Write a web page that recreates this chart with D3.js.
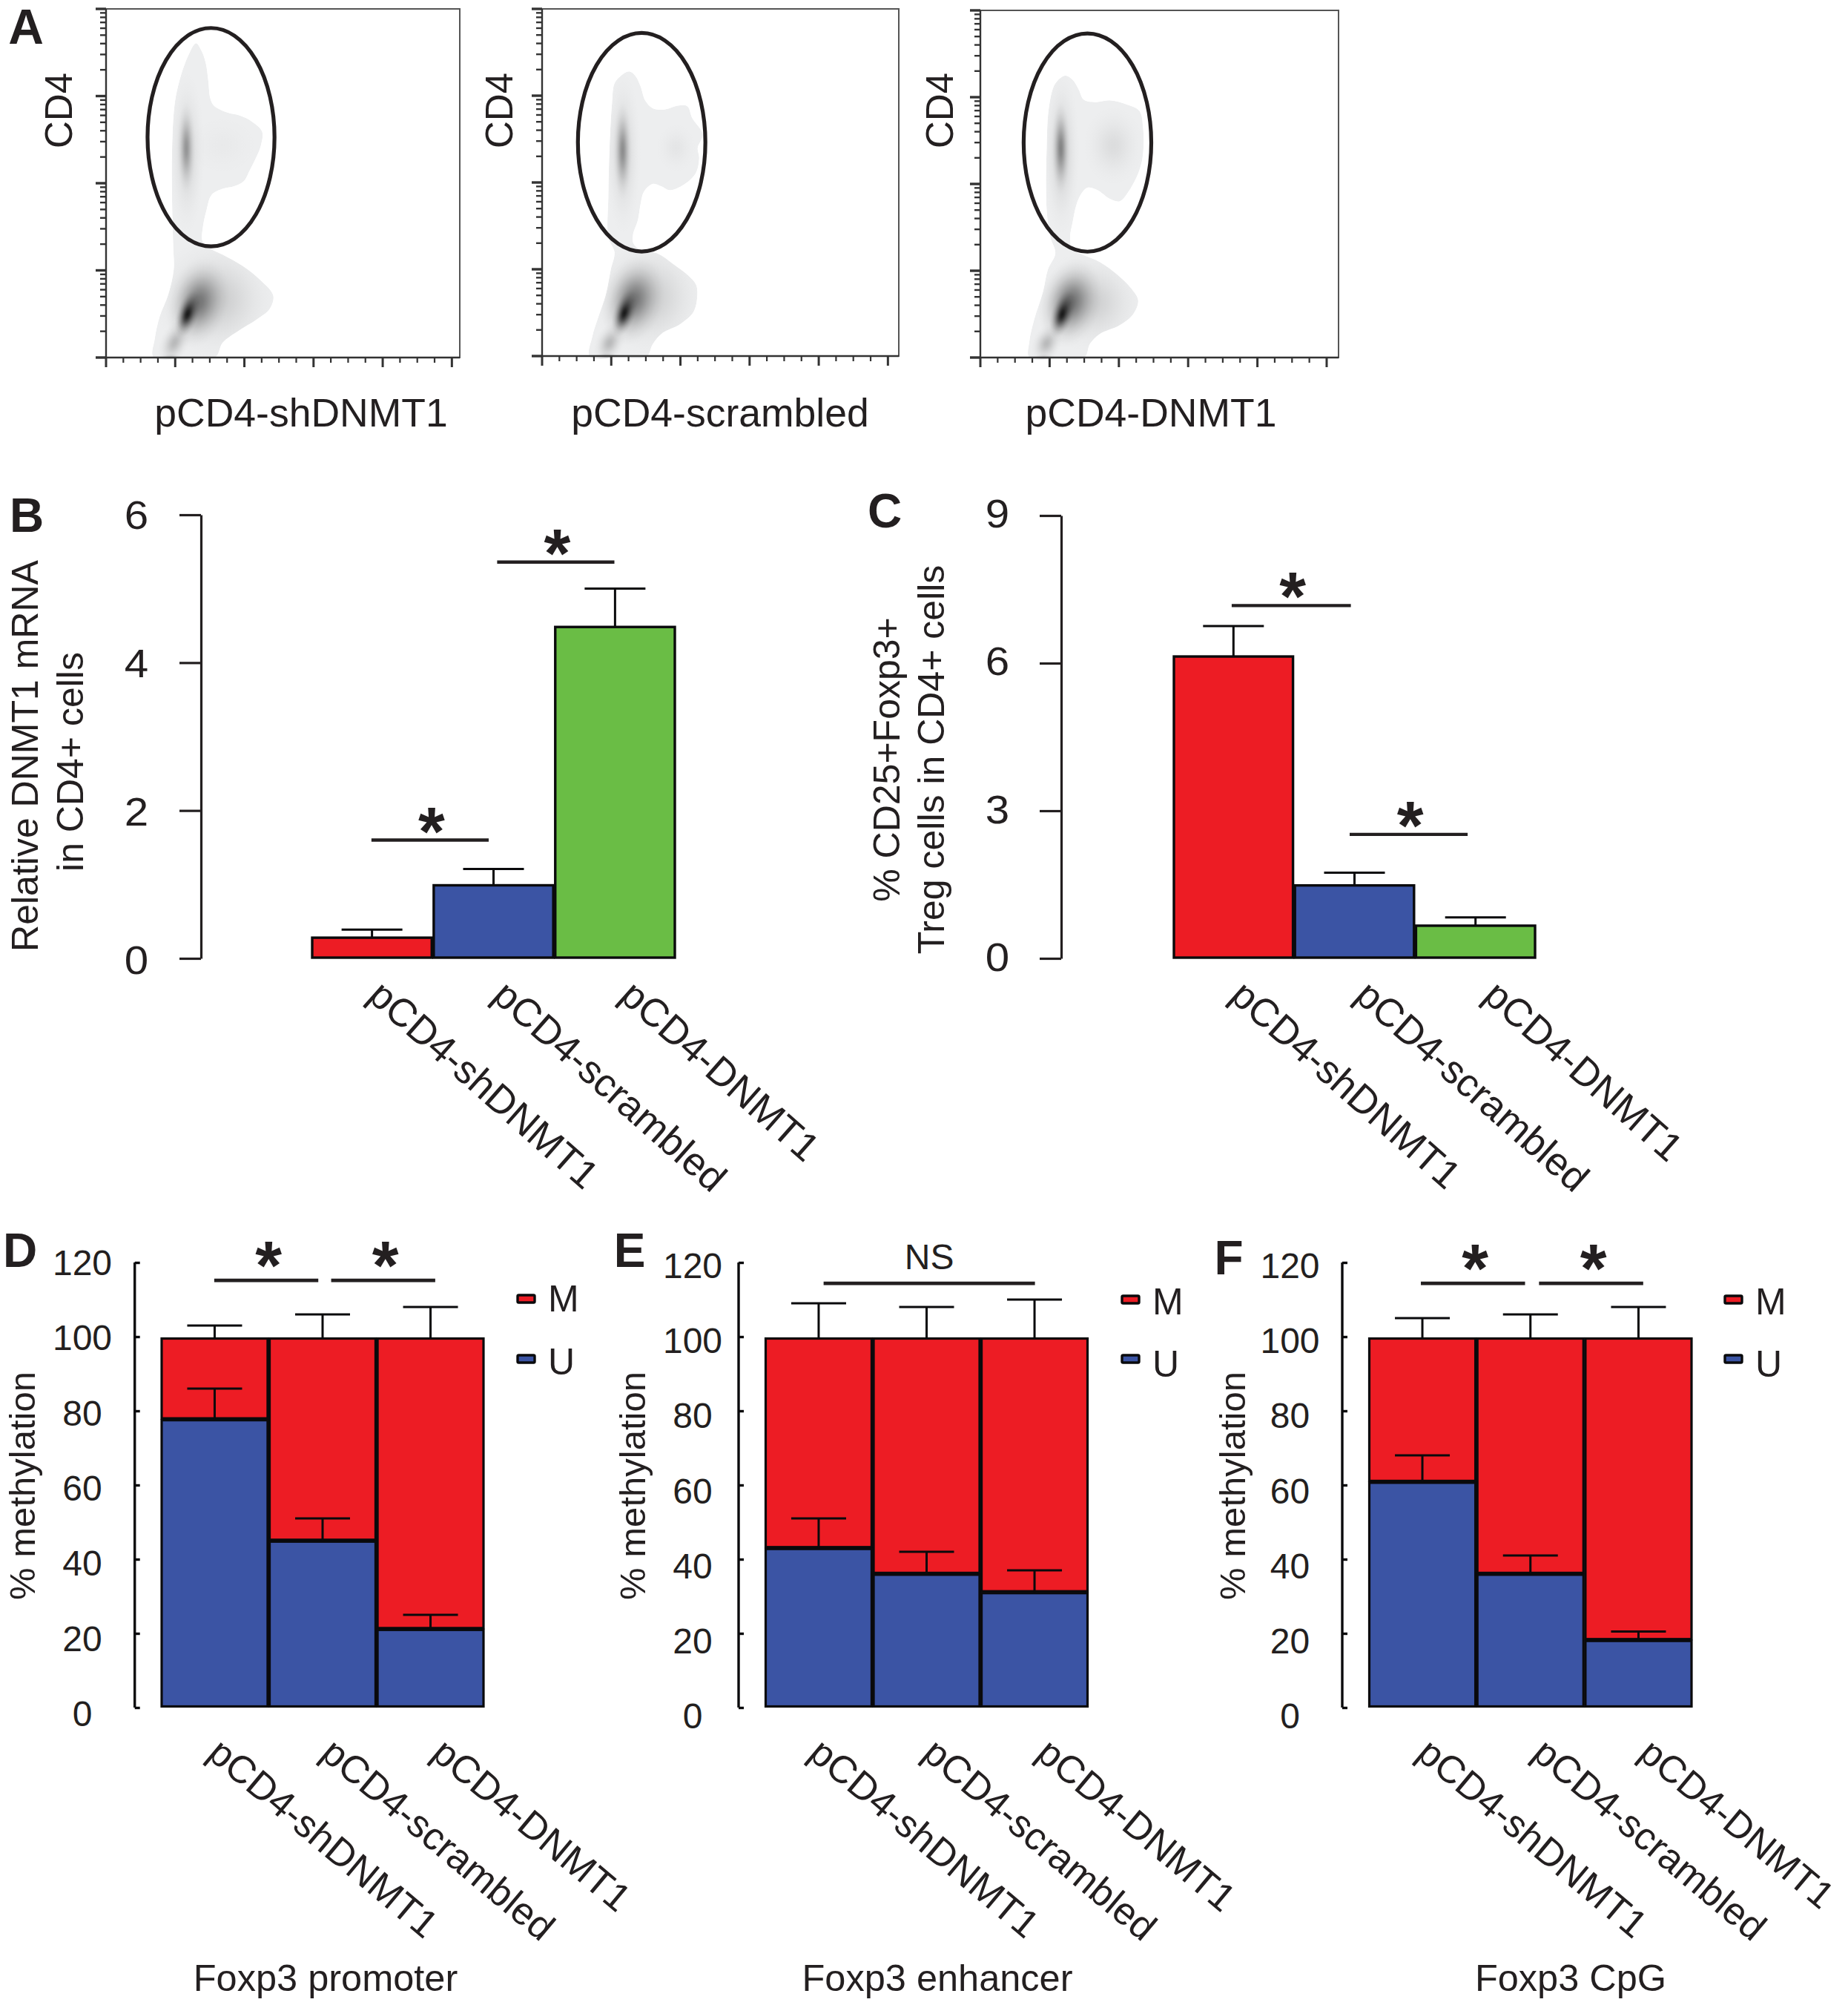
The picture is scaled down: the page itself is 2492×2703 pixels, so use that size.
<!DOCTYPE html>
<html><head><meta charset="utf-8">
<script src="https://cdn.jsdelivr.net/npm/d3@7/dist/d3.min.js"></script>
<style>html,body{margin:0;padding:0;background:#fff}svg{display:block}text{font-family:"Liberation Sans",Arial,sans-serif;fill:#231f20}</style>
</head><body><div id="chart"></div>
<script>
// ---------- data ----------
const categories = ["pCD4-shDNMT1","pCD4-scrambled","pCD4-DNMT1"];
const mrnaMean = [0.27,0.98,4.48], mrnaErr = [0.38,1.20,5.00];
const tregMean = [6.13,1.47,0.65], tregErr = [6.75,1.73,0.82];
const promoterU = [78,45,21], promoterUErr = [86,51,25], promoterTotalErr = [103,106,108];
const enhancerU = [43,36,31], enhancerUErr = [51,42,37], enhancerTotalErr = [109,108,110];
const cpgU = [61,36,18], cpgUErr = [68,41,20.5], cpgTotalErr = [105,106,108];
const mrnaTicks = [0,2,4,6], tregTicks = [0,3,6,9], methTicks = [0,20,40,60,80,100,120];
const seriesNames = ["M","U"];
// density outlines and gates in instrument channel units
const shOutline = [[432,178],[455,210],[472,260],[482,330],[490,400],[505,430],[560,458],[610,470],[660,495],[700,535],[695,590],[680,630],[650,690],[625,735],[585,755],[540,765],[495,790],[475,850],[460,920],[458,975],[480,1000],[540,1030],[620,1075],[690,1130],[745,1195],[730,1250],[680,1290],[600,1340],[540,1385],[510,1444],[385,1448],[260,1444],[265,1370],[285,1280],[320,1190],[342,1090],[340,1000],[335,800],[335,620],[345,430],[365,330],[400,230]];
const scOutline = [[445,292],[470,310],[490,350],[510,410],[540,440],[590,445],[640,430],[680,432],[700,480],[742,545],[722,600],[728,640],[715,700],[670,745],[610,770],[575,755],[540,745],[505,775],[490,830],[480,890],[460,950],[462,985],[490,1010],[560,1025],[620,1065],[680,1110],[715,1150],[720,1200],[705,1260],[650,1310],[580,1345],[540,1390],[515,1440],[400,1444],[285,1440],[295,1360],[320,1280],[350,1190],[370,1090],[385,1020],[360,960],[360,800],[365,600],[375,420],[385,340],[410,310]];
const dnOutline = [[470,308],[500,325],[525,365],[545,405],[590,415],[650,408],[720,425],[770,450],[785,520],[785,620],[770,690],[730,770],[690,815],[650,805],[600,770],[560,760],[535,785],[515,830],[500,900],[490,960],[500,1010],[540,1030],[610,1060],[680,1110],[740,1170],[765,1215],[745,1270],[690,1315],[610,1350],[570,1390],[548,1445],[436,1449],[325,1445],[325,1380],[345,1290],[380,1180],[400,1090],[430,1025],[410,960],[395,850],[395,600],[405,430],[430,340]];
// [cx, cy, rx, ry, tilt, strength]
const shBlobs = [[395,620,75,340,0,.12],[393,600,38,190,0,.33],[540,590,170,140,0,.02],[510,1210,260,250,10,.16],[440,1225,125,185,15,.5],[398,1270,46,100,18,.95],[345,1385,60,100,25,.24],[330,1444,50,16,0,.14]];
const scBlobs = [[420,620,75,340,0,.13],[418,610,38,200,0,.36],[635,600,90,110,0,.04],[520,1200,240,240,10,.16],[460,1215,125,185,15,.5],[425,1265,46,100,18,.95],[365,1385,60,90,25,.24],[355,1438,50,16,0,.14]];
const dnBlobs = [[455,620,75,340,0,.15],[452,600,38,190,0,.4],[665,590,130,170,0,.08],[570,1220,230,210,10,.15],[490,1225,125,185,15,.55],[458,1270,46,100,18,.95],[395,1388,60,85,25,.24],[385,1445,50,16,0,.14]];
const shGate = [493,557,257,440], scGate = [495,577,258,440], dnGate = [560,578,258,440];
const decades = [0,1,2,3,4,5];

// ---------- style ----------
const RED="#ed1c24", BLUE="#3b54a4", GREEN="#6abd45", INK="#231f20", BLACK="#0a0a0c";
const W=2492,H=2703;
const svg=d3.select("#chart").append("svg").attr("width",W).attr("height",H).attr("viewBox",`0 0 ${W} ${H}`);
svg.append("rect").attr("width",W).attr("height",H).attr("fill","#fff");
const defs=svg.append("defs");
const grad=defs.append("radialGradient").attr("id","gauss");
[[0,1],[.15,.9],[.3,.68],[.45,.44],[.6,.24],[.75,.1],[.9,.025],[1,0]].forEach(([o,a])=>grad.append("stop").attr("offset",o).attr("stop-color","#111").attr("stop-opacity",a));

function label(g,t,x,y,size,o={}){
  const tr=`translate(${x},${y})`+(o.rot?` rotate(${o.rot})`:"")+(o.sx?` scale(${o.sx},1)`:"");
  return g.append("text").attr("transform",tr).attr("text-anchor",o.anchor||"middle").attr("font-size",size).attr("font-weight",o.weight||"normal").text(t);
}

// ---------- panel A ----------
function flow(i,box,chan,outline,blobs,gate){
  const g=svg.append("g");
  const sx=d3.scaleLinear().domain(chan.x).range([box.l,box.r]);
  const sy=d3.scaleLinear().domain(chan.y).range([box.t,box.b]);
  const xLog=d3.scaleLinear().domain([0,(chan.x[1]-chan.x[0])/280]).range([box.l,box.r]);
  const yLog=d3.scaleLog().domain([1,1e4]).range([box.b,box.t]);
  const id="clipA"+i;
  const line=d3.line().x(d=>sx(d[0])).y(d=>sy(d[1])).curve(d3.curveCatmullRomClosed.alpha(.5));
  defs.append("clipPath").attr("id",id).append("path").attr("d",line(outline));
  const dens=g.append("g").attr("clip-path",`url(#${id})`);
  dens.append("path").attr("d",line(outline)).attr("fill","#edeeef");
  dens.selectAll("ellipse").data(blobs).join("ellipse")
    .attr("rx",d=>sx(d[0]+d[2])-sx(d[0])).attr("ry",d=>sy(d[1]+d[3])-sy(d[1]))
    .attr("transform",d=>`translate(${sx(d[0])},${sy(d[1])}) rotate(${d[4]})`)
    .attr("fill","url(#gauss)").attr("fill-opacity",d=>d[5]);
  g.append("rect").attr("x",box.l).attr("y",box.t).attr("width",box.r-box.l).attr("height",box.b-box.t).attr("fill","none").attr("stroke","#555").attr("stroke-width",2);
  g.append("path").attr("d",`M${box.l},${box.t}V${box.b}H${box.r}`).attr("fill","none").attr("stroke","#333").attr("stroke-width",2.4);
  const isMajor=d=>Number.isInteger(+Math.log10(d).toFixed(6));
  g.selectAll(".yt").data(yLog.ticks()).join("line").attr("x1",d=>box.l-(isMajor(d)?14:8)).attr("x2",box.l)
    .attr("y1",d=>yLog(d)).attr("y2",d=>yLog(d)).attr("stroke","#333").attr("stroke-width",d=>isMajor(d)?3.4:2.4);
  const xt=d3.range(0,decades[decades.length-1]+.01,.25);
  g.selectAll(".xt").data(xt).join("line").attr("x1",d=>xLog(d)).attr("x2",d=>xLog(d)).attr("y1",box.b).attr("y2",d=>box.b+(d%1===0?13:7))
    .attr("stroke","#333").attr("stroke-width",d=>d%1===0?3:2.2);
  g.append("ellipse").attr("cx",sx(gate[0])).attr("cy",sy(gate[1])).attr("rx",sx(gate[0]+gate[2])-sx(gate[0])).attr("ry",sy(gate[1]+gate[3])-sy(gate[1]))
    .attr("fill","none").attr("stroke",INK).attr("stroke-width",5.2);
  label(g,"CD4",box.ylabX,149,51,{rot:-90});
  label(g,categories[i],box.capX,575,53.5);
}
flow(0,{l:143,r:620,t:12,b:482,ylabX:97,capX:406},{x:[68,1500],y:[40,1445]},shOutline,shBlobs,shGate);
flow(1,{l:731,r:1212,t:12,b:480,ylabX:691,capX:971},{x:[92,1536],y:[40,1438]},scOutline,scBlobs,scGate);
flow(2,{l:1322,r:1805,t:14,b:482,ylabX:1285,capX:1552},{x:[127,1575],y:[45,1445]},dnOutline,dnBlobs,dnGate);

function star(g,cx,cy){ label(g,"*",cx,cy+54,92,{weight:"bold"}); }

// ---------- panels B, C ----------
function simple(p){
  const g=svg.append("g");
  const x=d3.scaleBand().domain(categories).range(p.bars).paddingInner(.016);
  const idx=d3.scaleLinear().domain([-.5,2.5]).range(p.bars);
  const top=p.ticks[p.ticks.length-1];
  const y=d3.scaleLinear().domain([0,top]).range(p.yr);
  const barY=d3.scaleLinear().domain([0,top]).range([p.yr[0]-1,p.yr[1]]);
  const yl=d3.scaleLinear().domain(y.domain()).range(p.ylr);
  const ax=g.append("g").attr("transform",`translate(${p.axisX},0)`).call(d3.axisLeft(y).tickValues(p.ticks).tickSize(29).tickSizeOuter(0).tickFormat(""));
  ax.selectAll("path,line").attr("stroke",INK).attr("stroke-width",3.2);
  ax.selectAll("text").remove();
  p.ticks.forEach(t=>label(g,t,p.labX,yl(t)+18,54,{sx:1.08}));
  const rows=categories.map((c,i)=>({c,v:p.mean[i],e:p.err[i],col:p.cols[i]}));
  g.selectAll(".stem").data(rows).join("path")
    .attr("d",d=>{const m=x(d.c)+x.bandwidth()/2;return `M${m},${barY(d.v)}V${barY(d.e)}M${m-41},${barY(d.e)}H${m+41}`})
    .attr("stroke",BLACK).attr("stroke-width",3).attr("fill","none");
  g.selectAll(".bar").data(rows).join("rect").attr("x",d=>x(d.c)).attr("width",x.bandwidth()).attr("y",d=>barY(d.v)).attr("height",d=>barY(0)-barY(d.v))
    .attr("fill",d=>d.col).attr("stroke",BLACK).attr("stroke-width",3.4);
  p.sig.forEach(s=>{
    g.append("line").attr("x1",idx(s[0])).attr("x2",idx(s[1])).attr("y1",y(s[2])).attr("y2",y(s[2])).attr("stroke",INK).attr("stroke-width",4.4);
    star(g,(idx(s[0])+idx(s[1]))/2+2,y(s[2])-34);
  });
  categories.forEach((c,i)=>label(g,c,x(c)+x.bandwidth()/2+p.capDx[i],p.capY,53,{rot:41.5,anchor:"start"}));
  p.title.forEach(t=>label(g,t[0],t[1],t[2],50,{rot:-90}));
  label(g,p.letter,p.lx,p.ly,64,{weight:"bold"});
}
simple({bars:[421,910],yr:[1292,694],ylr:[1295,695],axisX:271,labX:184,ticks:mrnaTicks,mean:mrnaMean,err:mrnaErr,cols:[RED,BLUE,GREEN],
  sig:[[-.01,.96,1.6],[1.03,2.0,5.36]],capDx:[-8,-4,4],capY:1346,title:[["Relative DNMT1 mRNA",51,1019],["in CD4+ cells",112,1027]],letter:"B",lx:36,ly:717});
simple({bars:[1583,2070],yr:[1292,695],ylr:[1291,693],axisX:1431,labX:1345,ticks:tregTicks,mean:tregMean,err:tregErr,cols:[RED,BLUE,GREEN],
  sig:[[-.02,.97,7.17],[.96,1.94,2.52]],capDx:[-7,-2,8],capY:1346,title:[["% CD25+Foxp3+",1213,1024],["Treg cells in CD4+ cells",1273,1024]],letter:"C",lx:1193,ly:711});

// ---------- panels D, E, F ----------
function stacked(p){
  const g=svg.append("g");
  const x=d3.scaleBand().domain(categories).range(p.bars).paddingInner(.018);
  const idx=d3.scaleLinear().domain([-.5,2.5]).range(p.bars);
  const y=d3.scaleLinear().domain([0,120]).range([2302,1702]);
  const barY=d3.scaleLinear().domain([0,100]).range([2300.5,1804.5]);
  const yl=d3.scaleLinear().domain([0,120]).range(p.ylr);
  const ax=g.append("g").attr("transform",`translate(${p.axisX},0)`).call(d3.axisLeft(y).tickValues(methTicks).tickSize(-7).tickSizeOuter(0).tickFormat(""));
  ax.selectAll("path,line").attr("stroke",BLACK).attr("stroke-width",3.4);
  ax.select("path").attr("d",`M0,${y(120)}V${y(0)}`);
  ax.selectAll("text").remove();
  methTicks.forEach(t=>label(g,t,p.labX,yl(t)+17,48));
  const rows=categories.map((c,i)=>({c,u:p.u[i],ue:p.ue[i],te:p.te[i]}));
  const errPath=(d,v,e)=>{const m=x(d.c)+x.bandwidth()/2;return `M${m},${barY(v)}V${y(e)}M${m-37},${y(e)}H${m+37}`};
  g.selectAll(".m").data(rows).join("rect").attr("x",d=>x(d.c)).attr("width",x.bandwidth()).attr("y",barY(100)).attr("height",d=>barY(d.u)-barY(100)-1.5).attr("fill",RED).attr("stroke",BLACK).attr("stroke-width",3.2);
  g.selectAll(".u").data(rows).join("rect").attr("x",d=>x(d.c)).attr("width",x.bandwidth()).attr("y",d=>barY(d.u)+1).attr("height",d=>barY(0)-barY(d.u)-1).attr("fill",BLUE).attr("stroke",BLACK).attr("stroke-width",3.2);
  g.selectAll(".e1").data(rows).join("path").attr("d",d=>errPath(d,100,d.te)).attr("stroke",BLACK).attr("stroke-width",3).attr("fill","none");
  g.selectAll(".e2").data(rows).join("path").attr("d",d=>errPath(d,d.u,d.ue)).attr("stroke",BLACK).attr("stroke-width",3).attr("fill","none");
  p.sig.forEach(s=>{
    g.append("line").attr("x1",idx(s[0])).attr("x2",idx(s[1])).attr("y1",barY(s[2])).attr("y2",barY(s[2])).attr("stroke",INK).attr("stroke-width",4.8);
    if(s[3]) label(g,s[3],(idx(s[0])+idx(s[1]))/2,1711,48);
    else star(g,(idx(s[0])+idx(s[1]))/2+3,barY(s[2])-42);
  });
  seriesNames.forEach((n,i)=>{
    const cy=p.legY[i];
    g.append("rect").attr("x",p.legX).attr("y",cy-5).attr("width",23).attr("height",10).attr("rx",1.5).attr("fill",i===0?RED:BLUE).attr("stroke",BLACK).attr("stroke-width",3.4);
    label(g,n,p.legX+41,p.legT[i],50,{anchor:"start"});
  });
  categories.forEach((c,i)=>label(g,c,x(c)+x.bandwidth()/2+p.capDx[i],2368,i===2&&p.letter==="F"?51:52,{rot:40,anchor:"start"}));
  label(g,"% methylation",p.ytX,p.ytY,49,{rot:-90});
  label(g,p.name,p.nameX,2684,50.5);
  label(g,p.letter,p.lx,p.ly,64,{weight:"bold"});
}
stacked({bars:[218,652],axisX:181.7,labX:111,ylr:[2310,1702],u:promoterU,ue:promoterUErr,te:promoterTotalErr,
  sig:[[-.01,.96,115.8],[1.08,2.05,115.8]],legX:698,legY:[1751,1832],legT:[1768,1853],capDx:[-12,-5,-1],ytX:47,ytY:2003,name:"Foxp3 promoter",nameX:439,letter:"D",lx:27,ly:1708});
stacked({bars:[1032.5,1466.5],axisX:996,labX:934,ylr:[2313,1706],u:enhancerU,ue:enhancerUErr,te:enhancerTotalErr,
  sig:[[.04,2.01,115,"NS"]],legX:1513,legY:[1752,1832],legT:[1772,1856],capDx:[-16,-8,0],ytX:870,ytY:2003,name:"Foxp3 enhancer",nameX:1264,letter:"E",lx:849,ly:1708});
stacked({bars:[1846.5,2281],axisX:1810,labX:1739.5,ylr:[2313,1706],u:cpgU,ue:cpgUErr,te:cpgTotalErr,
  sig:[[-.02,.95,115],[1.08,2.05,115]],legX:2326,legY:[1752,1832],legT:[1772,1856],capDx:[-10,0,-2],ytX:1679,ytY:2003,name:"Foxp3 CpG",nameX:2118,letter:"F",lx:1657,ly:1718});
label(svg,"A",35,59,66,{weight:"bold"});
</script></body></html>
